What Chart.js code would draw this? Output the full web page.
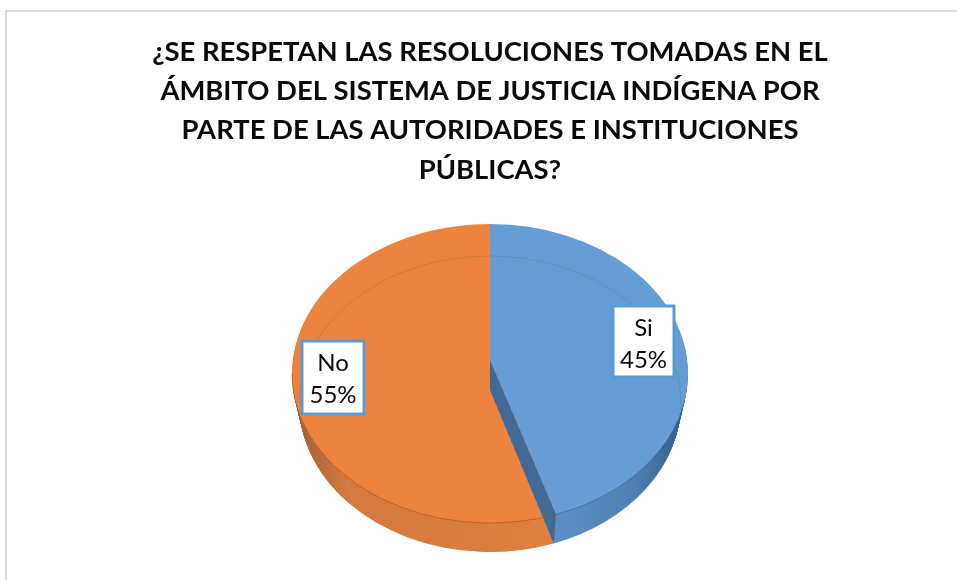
<!DOCTYPE html>
<html>
<head>
<meta charset="utf-8">
<title>Justicia indígena</title>
<script src="https://cdn.jsdelivr.net/npm/chart.js@4"></script>
<style>
  body { margin: 0; background: #fff; }
  #frame { position: absolute; left: 5px; top: 10px; right: 0; bottom: 0; border-top: 2px solid #d9d9d9; border-left: 2px solid #d9d9d9; }
  #pie { position: absolute; left: 0; top: 0; }
</style>
</head>
<body>
<div id="frame"></div>
<canvas id="pie" width="957" height="580"></canvas>
<script>
const categories = ['Si', 'No'];
const values = [45, 55];
const titleLines = [
  '¿SE RESPETAN LAS RESOLUCIONES TOMADAS EN EL',
  'ÁMBITO DEL SISTEMA DE JUSTICIA INDÍGENA POR',
  'PARTE DE LAS AUTORIDADES E INSTITUCIONES',
  'PÚBLICAS?'
];

// look of the tilted pie
const cx = 490, cy = 373.5, apexY = 360, rx = 198, ry = 149.5, depth = 29, rxBase = 191;
const cutSkew = 0.026;
const labelBoxes = [[613, 306, 61, 71], [302, 341, 62, 73]];

function rxAt(d) {
  return rx - (rx - rxBase) * d / depth;
}

// slice outline on the ellipse, d pixels below the top face
function fillSector(ctx, a0, a1, d, fill) {
  ctx.beginPath();
  ctx.moveTo(cx, apexY + d);
  ctx.ellipse(cx, cy + d, rxAt(d), ry, 0, a0, a1);
  ctx.closePath();
  ctx.fillStyle = fill;
  ctx.fill();
}

const tiltedPie = {
  id: 'tiltedPie',
  beforeDatasetsDraw(chart) {
    const ctx = chart.ctx;
    const arcs = chart.getDatasetMeta(0).data;
    const si = arcs[0], no = arcs[1];
    const cut = si.endAngle - cutSkew;

    const blueWall = ctx.createLinearGradient(556, 0, 688, 0);
    blueWall.addColorStop(0, '#5b8fc6');
    blueWall.addColorStop(0.6, '#4f80b2');
    blueWall.addColorStop(1, '#2f5a84');
    const orangeWall = ctx.createLinearGradient(296, 0, 555, 0);
    orangeWall.addColorStop(0, '#a35f38');
    orangeWall.addColorStop(0.2, '#d27a40');
    orangeWall.addColorStop(1, '#de8140');

    for (let d = depth; d >= 1; d--) {
      fillSector(ctx, si.startAngle, cut, d, blueWall);
      fillSector(ctx, cut, no.endAngle, d, orangeWall);
    }

    fillSector(ctx, si.startAngle, cut, 0, '#669dd6');
    fillSector(ctx, cut, no.endAngle, 0, '#ec843f');

    // cut face of the blue slice
    ctx.beginPath();
    ctx.moveTo(cx, apexY);
    ctx.lineTo(cx, apexY + depth + 1);
    ctx.lineTo(cx + rxBase * Math.cos(cut), cy + depth + ry * Math.sin(cut));
    ctx.lineTo(cx + rx * Math.cos(cut), cy + ry * Math.sin(cut));
    ctx.closePath();
    ctx.fillStyle = '#416b96';
    ctx.fill();

    // far rim seen through the top, near rim of the top face
    ctx.lineWidth = 1;
    ctx.beginPath();
    ctx.ellipse(cx, cy + depth, rxBase, ry - 3, 0, Math.PI, 0.05);
    ctx.strokeStyle = 'rgba(90, 70, 60, 0.18)';
    ctx.stroke();

    ctx.beginPath();
    ctx.ellipse(cx, cy, rx, ry, 0, cut, Math.PI);
    ctx.strokeStyle = 'rgba(170, 80, 30, 0.6)';
    ctx.stroke();
    ctx.beginPath();
    ctx.ellipse(cx, cy, rx, ry, 0, 0.2, cut);
    ctx.strokeStyle = 'rgba(50, 90, 140, 0.55)';
    ctx.stroke();

    return false;
  },
  afterDraw(chart) {
    const ctx = chart.ctx;
    const total = values.reduce((s, v) => s + v, 0);
    categories.forEach((name, i) => {
      const b = labelBoxes[i];
      ctx.fillStyle = '#fff';
      ctx.fillRect(b[0], b[1], b[2], b[3]);
      ctx.strokeStyle = '#5b9bd5';
      ctx.lineWidth = 3;
      ctx.strokeRect(b[0], b[1], b[2], b[3]);
      ctx.fillStyle = '#0a0a0a';
      ctx.font = '24px Lato';
      ctx.textAlign = 'center';
      ctx.textBaseline = 'middle';
      const mid = b[0] + b[2] / 2;
      ctx.fillText(name, mid, b[1] + 22);
      ctx.fillText(Math.round(values[i] / total * 100) + '%', mid, b[1] + 54);
    });
  }
};

new Chart(document.getElementById('pie'), {
  type: 'pie',
  data: {
    labels: categories,
    datasets: [{
      data: values,
      backgroundColor: ['#669dd6', '#ec843f'],
      borderWidth: 0
    }]
  },
  options: {
    responsive: false,
    animation: false,
    layout: { padding: { top: 32, left: 23, bottom: 22 } },
    plugins: {
      legend: { display: false },
      tooltip: { enabled: false },
      title: {
        display: true,
        text: titleLines,
        color: '#0a0a0a',
        font: { family: 'Lato', size: 27.4, weight: 'bold', lineHeight: 1.44 },
        padding: 0
      }
    }
  },
  plugins: [tiltedPie]
});
</script>
</body>
</html>
